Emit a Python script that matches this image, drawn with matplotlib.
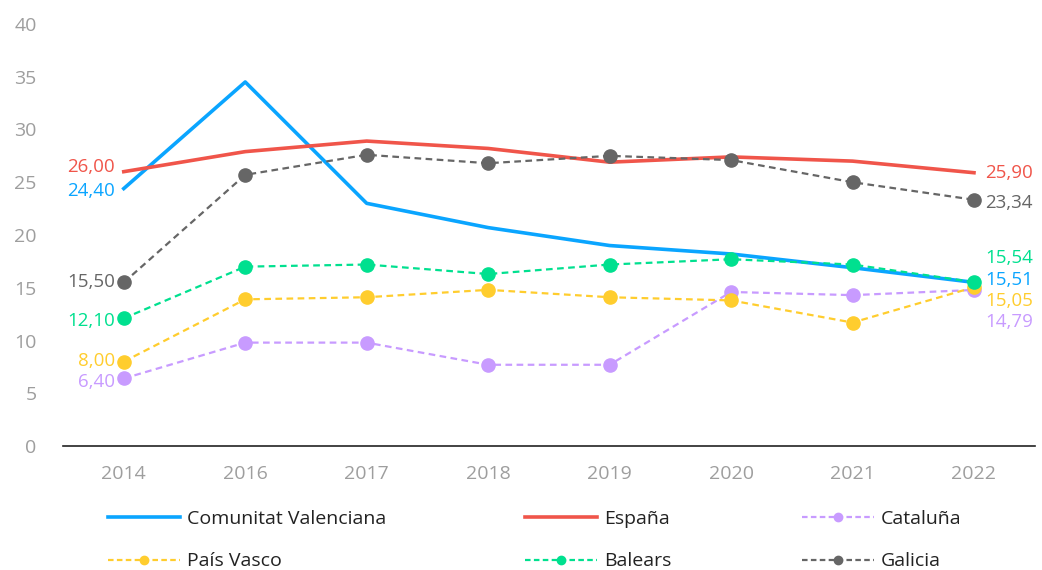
import numpy as np
import matplotlib.pyplot as plt
from matplotlib.lines import Line2D

plt.rcParams['font.family'] = ['Open Sans', 'DejaVu Sans']

# DATA
years = ['2014', '2016', '2017', '2018', '2019', '2020', '2021', '2022']

valenciana = [24.40, 34.5, 23.0, 20.7, 19.0, 18.2, 16.9, 15.51]
espana = [26.00, 27.9, 28.9, 28.2, 26.9, 27.4, 27.0, 25.90]
cataluna = [6.40, 9.8, 9.8, 7.7, 7.7, 14.6, 14.3, 14.79]
pais_vasco = [8.00, 13.9, 14.1, 14.8, 14.1, 13.8, 11.7, 15.05]
balears = [12.10, 17.0, 17.2, 16.3, 17.2, 17.7, 17.2, 15.54]
galicia = [15.50, 25.7, 27.6, 26.8, 27.5, 27.1, 25.0, 23.34]

# (name, values, color, dashed, left label dy px, right label dy px)
series = [
    ('Comunitat Valenciana', valenciana, '#0AA5FF', False, -2, 2),
    ('España', espana, '#F0554A', False, 5, 0),
    ('Cataluña', cataluna, '#C89BFF', True, -4, -32),
    ('País Vasco', pais_vasco, '#FFCD2E', True, 1, -14),
    ('Balears', balears, '#00E08F', True, -3, 24),
    ('Galicia', galicia, '#666666', True, 0, -3),
]

fmt = lambda v: '{:.2f}'.format(v).replace('.', ',')

fig = plt.figure(figsize=(10.42, 5.7), dpi=100)
ax = fig.add_axes([0.0605, 0.2175, 0.9325, 0.7405])
x = np.arange(len(years))

handles = []
for name, vals, col, dashed, dl, dr in series:
    if dashed:
        ax.plot(x, vals, '--', color=col, lw=1.6, marker='o', markersize=9.5,
                dashes=(3, 2))
        handles.append(Line2D([], [], color=col, lw=1.6, ls='--', dashes=(2.5, 1.5),
                              marker='o', markersize=6, label=name))
    else:
        ax.plot(x, vals, '-', color=col, lw=2.6)
        handles.append(Line2D([], [], color=col, lw=2.6, label=name))
    ax.annotate(fmt(vals[0]), (x[0], vals[0]), xytext=(-9, dl),
                textcoords='offset pixels', ha='right', va='center',
                color=col, fontsize=13.5)
    ax.annotate(fmt(vals[-1]), (x[-1], vals[-1]), xytext=(11, dr),
                textcoords='offset pixels', ha='left', va='center',
                color=col, fontsize=13.5)

ax.set_xlim(-0.5, 7.5)
ax.set_ylim(0, 40)
ax.set_yticks(range(0, 41, 5))
ax.set_xticks(x)
ax.set_xticklabels(years)
ax.tick_params(length=0, labelsize=14, colors='#9E9E9E', pad=14)
ax.tick_params(axis='y', pad=19)
for s in ['top', 'right', 'left']:
    ax.spines[s].set_visible(False)
ax.spines['bottom'].set_color('#222222')
ax.spines['bottom'].set_linewidth(1.2)

# legend: three columns, two rows (row-major as in the reference)
col_x = [108, 525, 802]
for i, cx in enumerate(col_x):
    leg = fig.legend(handles=[handles[i], handles[i + 3]], loc='upper left',
                     bbox_to_anchor=(cx / 1042, 1 - 510 / 570), frameon=False,
                     fontsize=14, handlelength=3.7, handletextpad=0.35,
                     labelspacing=1.25, borderpad=0, borderaxespad=0)
    for t in leg.get_texts():
        t.set_color('#222222')

fig.savefig('out.png', dpi=100)
